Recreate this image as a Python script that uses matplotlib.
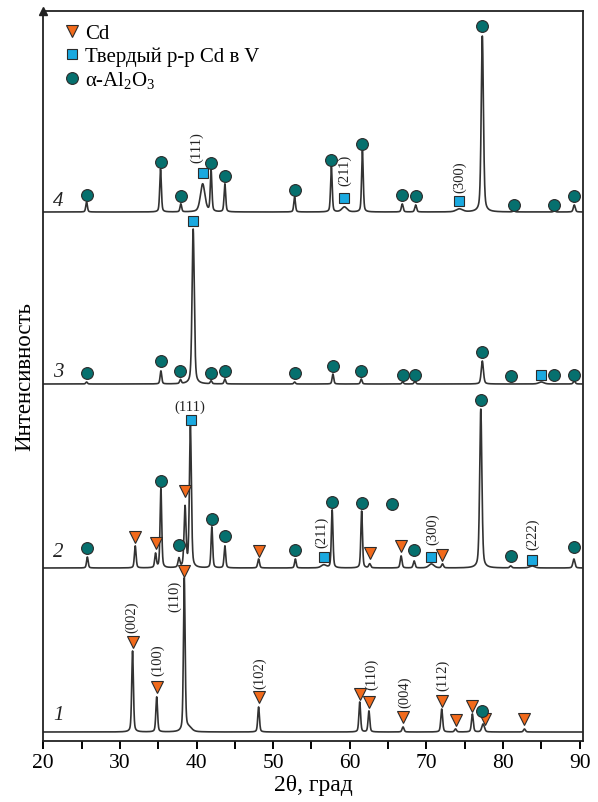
import numpy as np
import matplotlib
matplotlib.use("Agg")
import matplotlib.pyplot as plt
from matplotlib.lines import Line2D

plt.rcParams['font.family'] = ['Liberation Serif', 'DejaVu Serif']
plt.rcParams['mathtext.fontset'] = 'custom'
plt.rcParams['mathtext.rm'] = 'Liberation Serif'
plt.rcParams['mathtext.it'] = 'Liberation Serif:italic'

# ---------------- data (2theta in degrees, intensity in arbitrary units) ----------------
# baselines of the stacked patterns
baselines = {'1': 9, '2': 173, '3': 357, '4': 529}

# peaks: position, height above baseline, FWHM
t1_pos = [31.65, 34.8, 38.4, 39.0, 48.1, 61.3, 62.5, 66.95, 72.0, 73.8, 76.0, 77.4, 82.8]
t1_h   = [81, 35, 153, 4, 25, 30, 21, 5, 23, 3, 18, 8, 3]
t1_w   = [0.26, 0.26, 0.26, 0.9, 0.26, 0.26, 0.26, 0.3, 0.28, 0.3, 0.28, 0.4, 0.3]

t2_pos = [25.75, 32.0, 34.65, 35.35, 37.7, 38.5, 39.2, 42.0, 43.7, 48.1, 52.9, 56.6, 57.7, 61.55,
          62.6, 66.7, 68.4, 70.65, 72.1, 77.1, 81.0, 83.8, 89.25]
t2_h   = [11, 22, 14, 79, 9, 60, 141, 41, 22, 9, 9, 3, 58, 57,
          4, 12, 7, 4, 4, 159, 2, 2, 9]
t2_w   = [0.25, 0.26, 0.26, 0.25, 0.28, 0.3, 0.3, 0.25, 0.25, 0.28, 0.25, 0.8, 0.25, 0.25,
          0.3, 0.28, 0.28, 0.8, 0.3, 0.34, 0.3, 0.8, 0.32]

t3_pos = [25.65, 35.35, 37.9, 39.56, 41.9, 43.7, 52.8, 57.8, 61.5, 66.9, 68.5, 77.3, 85.0, 89.3]
t3_h   = [2, 13, 4, 155, 3, 5, 2, 10, 5, 2, 3, 23, 2, 3]
t3_w   = [0.25, 0.25, 0.25, 0.34, 0.25, 0.25, 0.25, 0.25, 0.25, 0.25, 0.25, 0.34, 0.8, 0.3]

t4_pos = [25.65, 35.3, 37.95, 40.8, 41.9, 43.7, 52.8, 57.6, 59.3, 61.65, 66.85, 68.6, 74.3, 77.3,
          81.4, 86.7, 89.3]
t4_h   = [10, 43, 8, 28, 41, 28, 15, 45, 5, 61, 8, 7, 3, 176, 1, 1, 7]
t4_w   = [0.25, 0.25, 0.25, 0.7, 0.25, 0.25, 0.25, 0.25, 0.8, 0.25, 0.28, 0.28, 1.0, 0.34, 0.3, 0.3, 0.3]

# phase markers: (2theta, absolute plot height)
cd_x = [31.65, 34.8, 38.4, 48.1, 61.3, 62.5, 66.95, 72.0, 73.8, 76.0, 77.7, 82.8,
        32.0, 34.65, 38.55, 48.1, 62.6, 66.7, 72.1]
cd_y = [99, 54, 170, 44, 47, 39, 24, 40, 21, 35, 22, 22,
        204, 198, 250, 190, 188, 195, 186]

ss_x = [39.25, 56.6, 70.65, 83.8, 39.56, 85.0, 40.8, 59.3, 74.3]
ss_y = [321, 184, 184, 181, 520, 366, 568, 543, 540]

al_x = [77.2,
        25.75, 35.35, 37.7, 42.0, 43.7, 52.9, 57.7, 61.55, 65.5, 68.4, 77.1, 81.0, 89.25,
        25.65, 35.35, 37.9, 41.9, 43.7, 52.8, 57.8, 61.5, 66.9, 68.5, 77.3, 81.1, 86.65, 89.3,
        25.65, 35.3, 37.95, 41.9, 43.7, 52.8, 57.6, 61.65, 66.85, 68.6, 77.3, 81.4, 86.7, 89.3]
al_y = [30,
        193, 260, 196, 222, 205, 191, 239, 238, 237, 191, 341, 185, 194,
        368, 380, 370, 368, 370, 368, 375, 370, 366, 366, 389, 365, 366, 366,
        546, 579, 545, 578, 565, 551, 581, 597, 546, 545, 715, 536, 536, 545]

# hkl labels: text, 2theta, height, rotation
hkl_text = ['(002)', '(100)', '(110)', '(102)', '(110)', '(004)', '(112)',
            '(111)', '(211)', '(300)', '(222)',
            '(111)', '(211)', '(300)']
hkl_x = [31.5, 34.9, 37.2, 48.25, 62.9, 67.2, 72.1,
         39.1, 56.3, 70.8, 83.9,
         40.0, 59.3, 74.3]
hkl_y = [125, 82, 146, 69, 68, 50, 67,
         335, 210, 213, 208,
         594, 572, 565]
hkl_rot = [90, 90, 90, 90, 90, 90, 90,
           0, 90, 90, 90,
           90, 90, 90]

curve_names = ['1', '2', '3', '4']
curve_label_x = [21.3, 21.3, 21.3, 21.3]
curve_label_y = [26, 189, 369, 541]

legend_labels = ['Cd', 'Твердый р-р Cd в V', r'α-Al$_2$O$_3$']

# ---------------- drawing ----------------
def profile(x, pos, h, w):
    y = np.zeros_like(x)
    for p, a, f in zip(pos, h, w):
        g = np.exp(-4 * np.log(2) * ((x - p) / f) ** 2)
        l = 1.0 / (1.0 + 4 * ((x - p) / f) ** 2)
        y += a * (0.6 * g + 0.4 * l)
    return y

fig = plt.figure(figsize=(5.98, 8.03), dpi=100)
ax = fig.add_axes([43.3 / 598, 61 / 803, 539.4 / 598, 730 / 803])

x = np.linspace(20, 90.3, 6000)
line_col = '#333333'
for key, (p, h, w) in zip(curve_names, [(t1_pos, t1_h, t1_w), (t2_pos, t2_h, t2_w),
                                      (t3_pos, t3_h, t3_w), (t4_pos, t4_h, t4_w)]):
    ax.plot(x, baselines[key] + profile(x, p, h, w), color=line_col, lw=1.2, zorder=2)

ec = '#2b2b2b'
ax.plot(cd_x, cd_y, linestyle='none', marker='v', ms=9, mfc='#f26a1b', mec=ec, mew=0.8, zorder=4)
ax.plot(ss_x, ss_y, linestyle='none', marker='s', ms=7, mfc='#1aa9e0', mec=ec, mew=0.8, zorder=4)
ax.plot(al_x, al_y, linestyle='none', marker='o', ms=8.5, mfc='#06706e', mec=ec, mew=0.8, zorder=4)

for t, hx, hy, r in zip(hkl_text, hkl_x, hkl_y, hkl_rot):
    ax.text(hx, hy, t, rotation=r, ha='center', va='center', fontsize=10.5, color='#222222')

for n, cx, cy in zip(curve_names, curve_label_x, curve_label_y):
    ax.text(cx, cy, n, fontsize=15, style='italic', ha='left', va='center', color='#222222')

handles = [Line2D([], [], linestyle='none', marker='v', ms=9, mfc='#f26a1b', mec=ec, mew=0.8),
           Line2D([], [], linestyle='none', marker='s', ms=7, mfc='#1aa9e0', mec=ec, mew=0.8),
           Line2D([], [], linestyle='none', marker='o', ms=8.5, mfc='#06706e', mec=ec, mew=0.8)]
ax.legend(handles, legend_labels, loc='upper left', bbox_to_anchor=(0.022, 0.994), frameon=False,
          fontsize=15, handlelength=0.8, handletextpad=0.25, labelspacing=0.15, borderaxespad=0)

ax.set_xlim(20, 90.4)
ax.set_ylim(0, 730)
ax.set_xticks(np.arange(20, 91, 10))
ax.set_xticks(np.arange(25, 90, 10), minor=True)
ax.tick_params(axis='x', which='both', direction='out', length=6, width=1.4, labelsize=15.5, pad=3)
ax.set_yticks([])
for s in ax.spines.values():
    s.set_linewidth(1.3)
    s.set_color('#222222')
ax.plot([0], [1.0], marker='^', ms=6, color='#222222', transform=ax.transAxes, clip_on=False,
        zorder=5)
ax.set_xlabel('2θ, град', fontsize=17, labelpad=1)
ax.set_ylabel('Интенсивность', fontsize=16.5, labelpad=6)

fig.savefig('out.png', dpi=100)
